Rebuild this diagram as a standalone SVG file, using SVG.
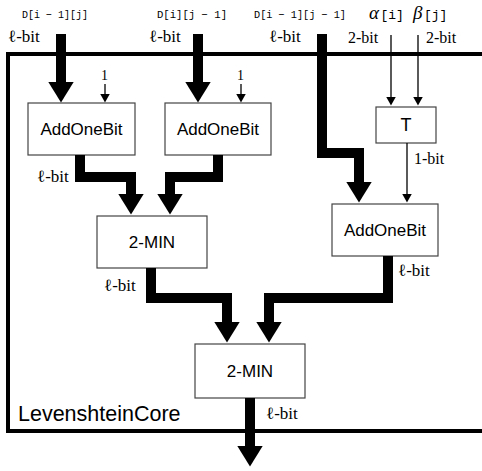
<svg xmlns="http://www.w3.org/2000/svg" width="482" height="471" viewBox="0 0 482 471">
<style>
  .box { fill: #fff; stroke: #444; stroke-width: 1.2; }
  .lbl { font-family: "Liberation Sans", Arial, sans-serif; font-size: 17px; fill: #000; text-anchor: middle; }
  .mono { font-family: "Liberation Mono", "DejaVu Sans Mono", monospace; font-size: 11.5px; fill: #000; }
  .ser { font-family: "Times New Roman", "Liberation Serif", serif; fill: #000; }
  .thick { fill: none; stroke: #000; stroke-width: 10; stroke-linejoin: miter; stroke-linecap: butt; }
  .thin { fill: none; stroke: #000; stroke-width: 1.3; }
</style>
<defs>
  <marker id="hThick" markerUnits="userSpaceOnUse" viewBox="0 0 21 26" markerWidth="21" markerHeight="26" refX="0.5" refY="13" orient="auto">
    <path d="M0,0 L21,13 L0,26 z" fill="#000"/>
  </marker>
  <marker id="hThin" markerUnits="userSpaceOnUse" viewBox="0 0 9 10" markerWidth="9" markerHeight="10" refX="0.5" refY="5" orient="auto">
    <path d="M0,0 L9,5 L0,10 z" fill="#000"/>
  </marker>
</defs>

<g id="core">
  <rect x="8" y="54" width="482" height="377" fill="none" stroke="#000" stroke-width="4"/>
  <text x="18" y="421" font-family="Liberation Sans, Arial, sans-serif" font-size="21.5" fill="#000">LevenshteinCore</text>
</g>

<g id="inputs">
  <text class="mono" x="22" y="18" textLength="66" lengthAdjust="spacingAndGlyphs">D[i − 1][j]</text>
  <text class="mono" x="157" y="18" textLength="70" lengthAdjust="spacingAndGlyphs">D[i][j − 1]</text>
  <text class="mono" x="254" y="18" textLength="92" lengthAdjust="spacingAndGlyphs">D[i − 1][j − 1]</text>
  <text x="369" y="19" fill="#000"><tspan class="ser" font-style="italic" style="font-size:19px">α</tspan><tspan dx="1.5" font-family="Liberation Mono, monospace" font-size="13">[i]</tspan></text>
  <text x="413" y="19" fill="#000"><tspan class="ser" font-style="italic" style="font-size:19px">β</tspan><tspan dx="1.5" font-family="Liberation Mono, monospace" font-size="13">[j]</tspan></text>
</g>

<g id="AddOneBit1">
  <rect class="box" x="28" y="103" width="107" height="52"/>
  <text class="lbl" x="81.5" y="135">AddOneBit</text>
</g>
<g id="AddOneBit2">
  <rect class="box" x="165" y="103" width="106" height="52"/>
  <text class="lbl" x="218" y="135">AddOneBit</text>
</g>
<g id="T">
  <rect class="box" x="376" y="107" width="60" height="36"/>
  <text class="lbl" x="406" y="131" style="font-size:18px">T</text>
</g>
<g id="AddOneBit3">
  <rect class="box" x="332" y="204" width="106" height="52"/>
  <text class="lbl" x="385" y="236">AddOneBit</text>
</g>
<g id="MIN1">
  <rect class="box" x="97" y="216" width="110" height="52"/>
  <text class="lbl" x="152" y="248">2-MIN</text>
</g>
<g id="MIN2">
  <rect class="box" x="195" y="344" width="110" height="54"/>
  <text class="lbl" x="250" y="377">2-MIN</text>
</g>

<g id="connectors">
  <path class="thick" d="M61,34 V82" marker-end="url(#hThick)"/>
  <path class="thick" d="M198,34 V82" marker-end="url(#hThick)"/>
  <path class="thick" d="M322,34 V153 H359 V182" marker-end="url(#hThick)"/>
  <path class="thin" d="M391,35 V97" marker-end="url(#hThin)"/>
  <path class="thin" d="M418,35 V97" marker-end="url(#hThin)"/>
  <path class="thin" d="M105,84 V94" marker-end="url(#hThin)"/>
  <path class="thin" d="M241,84 V94" marker-end="url(#hThin)"/>
  <path class="thin" d="M407,143 V194" marker-end="url(#hThin)"/>
  <path class="thick" d="M80,155 V177 H131 V194" marker-end="url(#hThick)"/>
  <path class="thick" d="M218,155 V177 H170 V194" marker-end="url(#hThick)"/>
  <path class="thick" d="M151,268 V298 H227 V322" marker-end="url(#hThick)"/>
  <path class="thick" d="M388,256 V298 H269 V322" marker-end="url(#hThick)"/>
  <path class="thick" d="M250,398 V446" marker-end="url(#hThick)"/>

  <g class="ser" style="font-size:17px">
    <text x="8" y="42">ℓ-bit</text>
    <text x="149" y="42">ℓ-bit</text>
    <text x="269" y="42">ℓ-bit</text>
    <text x="348" y="43" style="font-size:16px">2-bit</text>
    <text x="426" y="43" style="font-size:16px">2-bit</text>
    <text x="101" y="80" style="font-size:14px">1</text>
    <text x="237" y="80" style="font-size:14px">1</text>
    <text x="414" y="164" style="font-size:16px">1-bit</text>
    <text x="37" y="182">ℓ-bit</text>
    <text x="104" y="291">ℓ-bit</text>
    <text x="398" y="276">ℓ-bit</text>
    <text x="266" y="419">ℓ-bit</text>
  </g>
</g>
</svg>
